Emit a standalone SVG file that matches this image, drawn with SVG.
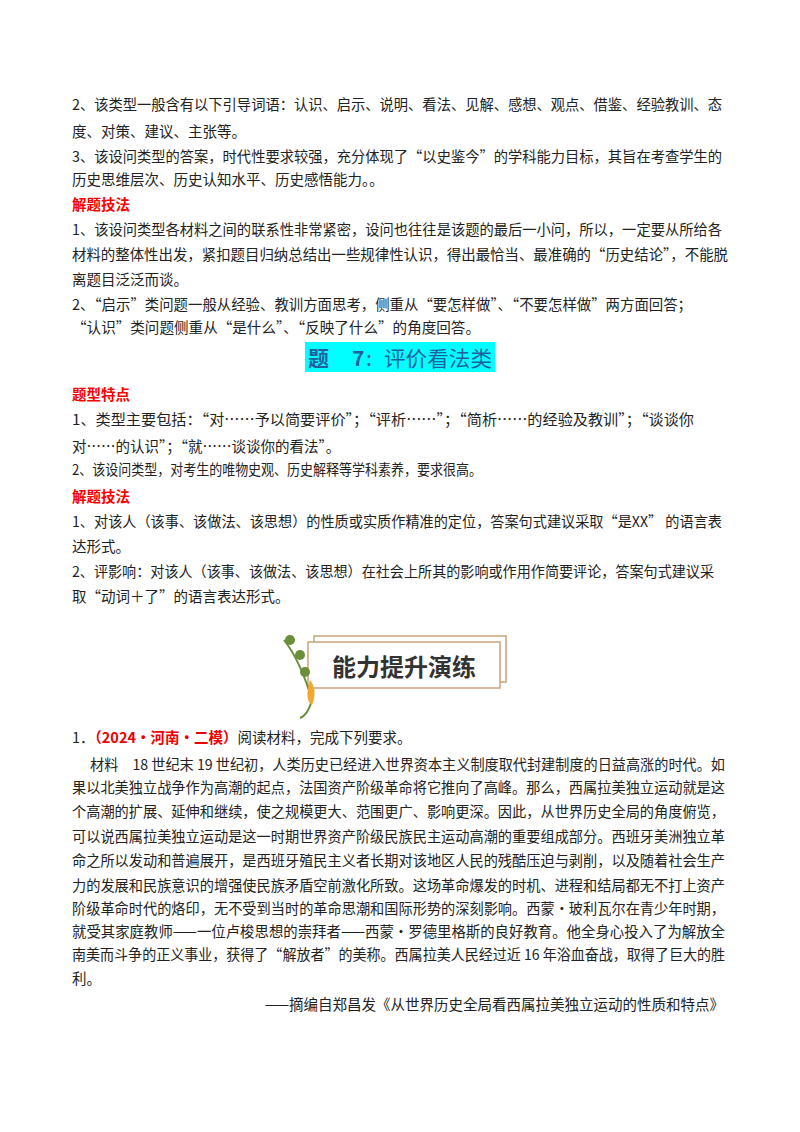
<svg xmlns="http://www.w3.org/2000/svg" width="800" height="1132" viewBox="0 0 800 1132">
<style>
text{font-family:"Noto Sans CJK SC","Liberation Sans",sans-serif;font-size:14.5px;fill:#222}
.r{fill:#f00;font-weight:bold}
.m{font-size:14.5px}
</style>
<rect width="800" height="1132" fill="#fff"/>
<g id="top">
<text x="72" y="110" textLength="650" lengthAdjust="spacingAndGlyphs">2、该类型一般含有以下引导词语：认识、启示、说明、看法、见解、感想、观点、借鉴、经验教训、态</text>
<text x="72" y="137">度、对策、建议、主张等。</text>
<text x="72" y="162" textLength="650" lengthAdjust="spacingAndGlyphs">3、该设问类型的答案，时代性要求较强，充分体现了“以史鉴今”的学科能力目标，其旨在考查学生的</text>
<text x="72" y="185">历史思维层次、历史认知水平、历史感悟能力。。</text>
<text x="72" y="210" class="r">解题技法</text>
<text x="72" y="235" textLength="650" lengthAdjust="spacingAndGlyphs">1、该设问类型各材料之间的联系性非常紧密，设问也往往是该题的最后一小问，所以，一定要从所给各</text>
<text x="72" y="260" textLength="656" lengthAdjust="spacingAndGlyphs">材料的整体性出发，紧扣题目归纳总结出一些规律性认识，得出最恰当、最准确的“历史结论”，不能脱</text>
<text x="72" y="285">离题目泛泛而谈。</text>
<text x="72" y="310" textLength="620" lengthAdjust="spacingAndGlyphs">2、“启示”类问题一般从经验、教训方面思考，侧重从“要怎样做”、“不要怎样做”两方面回答；</text>
<text x="72" y="333" textLength="408" lengthAdjust="spacingAndGlyphs">“认识”类问题侧重从“是什么”、“反映了什么”的角度回答。</text>
</g>
<g id="title">
<rect x="305" y="342" width="190" height="30" fill="#00ffff"/>
<text x="308" y="366" style="font-size:21px;fill:#1f5fa0;font-weight:bold">题</text>
<text x="352" y="366" style="font-size:21px;fill:#1f5fa0;font-weight:bold">7</text>
<text x="366" y="366" style="font-size:21px;fill:#1f5fa0">:</text>
<text x="384" y="366" style="font-size:21px;fill:#1f5fa0" textLength="108" lengthAdjust="spacingAndGlyphs">评价看法类</text>
</g>
<g id="sec2">
<text x="72" y="400" class="r">题型特点</text>
<text x="72" y="425" textLength="622" lengthAdjust="spacingAndGlyphs">1、类型主要包括：“对……予以简要评价”；“评析……”；“简析……的经验及教训”；“谈谈你</text>
<text x="72" y="452">对……的认识”；“就……谈谈你的看法”。</text>
<text x="72" y="475" textLength="410" lengthAdjust="spacingAndGlyphs">2、该设问类型，对考生的唯物史观、历史解释等学科素养，要求很高。</text>
<text x="72" y="502" class="r">解题技法</text>
<text x="72" y="527" textLength="650" lengthAdjust="spacingAndGlyphs">1、对该人（该事、该做法、该思想）的性质或实质作精准的定位，答案句式建议采取“是XX” 的语言表</text>
<text x="72" y="552">达形式。</text>
<text x="72" y="577" textLength="642" lengthAdjust="spacingAndGlyphs">2、评影响：对该人（该事、该做法、该思想）在社会上所其的影响或作用作简要评论，答案句式建议采</text>
<text x="72" y="602">取“动词＋了”的语言表达形式。</text>
</g>
<g id="badge">
<rect x="314" y="636" width="192" height="46" fill="none" stroke="#c8a27a" stroke-width="1.5"/>
<rect x="308" y="642" width="192" height="46" fill="#fff" stroke="#c8a27a" stroke-width="1.5"/>
<text x="332" y="676" style="font-size:24px;font-weight:bold;fill:#333">能力提升演练</text>
<path d="M284 640 Q300 660 312 700 Q308 715 300 718" fill="none" stroke="#6b8e3a" stroke-width="2"/>
<path d="M310 680 Q318 690 312 705 Q304 700 310 680Z" fill="#f0a830"/>
<circle cx="290" cy="640" r="5" fill="#6b8e3a"/>
<circle cx="300" cy="655" r="5" fill="#6b8e3a"/>
<circle cx="305" cy="672" r="5" fill="#6b8e3a"/>
</g>
<g id="q1">
<text x="72" y="743">1．<tspan class="r" style="fill:#e00">（2024·河南·二模）</tspan>阅读材料，完成下列要求。</text>
<text x="90" y="770" class="m" textLength="635" lengthAdjust="spacingAndGlyphs">材料　18 世纪末 19 世纪初，人类历史已经进入世界资本主义制度取代封建制度的日益高涨的时代。如</text>
<text x="72" y="793" class="m" textLength="653" lengthAdjust="spacingAndGlyphs">果以北美独立战争作为高潮的起点，法国资产阶级革命将它推向了高峰。那么，西属拉美独立运动就是这</text>
<text x="72" y="817" class="m" textLength="653" lengthAdjust="spacingAndGlyphs">个高潮的扩展、延伸和继续，使之规模更大、范围更广、影响更深。因此，从世界历史全局的角度俯览，</text>
<text x="72" y="842" class="m" textLength="653" lengthAdjust="spacingAndGlyphs">可以说西属拉美独立运动是这一时期世界资产阶级民族民主运动高潮的重要组成部分。西班牙美洲独立革</text>
<text x="72" y="866" class="m" textLength="653" lengthAdjust="spacingAndGlyphs">命之所以发动和普遍展开，是西班牙殖民主义者长期对该地区人民的残酷压迫与剥削，以及随着社会生产</text>
<text x="72" y="891" class="m" textLength="653" lengthAdjust="spacingAndGlyphs">力的发展和民族意识的增强使民族矛盾空前激化所致。这场革命爆发的时机、进程和结局都无不打上资产</text>
<text x="72" y="914" class="m" textLength="653" lengthAdjust="spacingAndGlyphs">阶级革命时代的烙印，无不受到当时的革命思潮和国际形势的深刻影响。西蒙•玻利瓦尔在青少年时期，</text>
<text x="72" y="937" class="m" textLength="653" lengthAdjust="spacingAndGlyphs">就受其家庭教师——一位卢梭思想的崇拜者——西蒙•罗德里格斯的良好教育。他全身心投入了为解放全</text>
<text x="72" y="960" class="m" textLength="653" lengthAdjust="spacingAndGlyphs">南美而斗争的正义事业，获得了“解放者”的美称。西属拉美人民经过近 16 年浴血奋战，取得了巨大的胜</text>
<text x="72" y="984" class="m">利。</text>
<text x="724" y="1010" class="m" text-anchor="end">——摘编自郑昌发《从世界历史全局看西属拉美独立运动的性质和特点》</text>
</g>
</svg>
